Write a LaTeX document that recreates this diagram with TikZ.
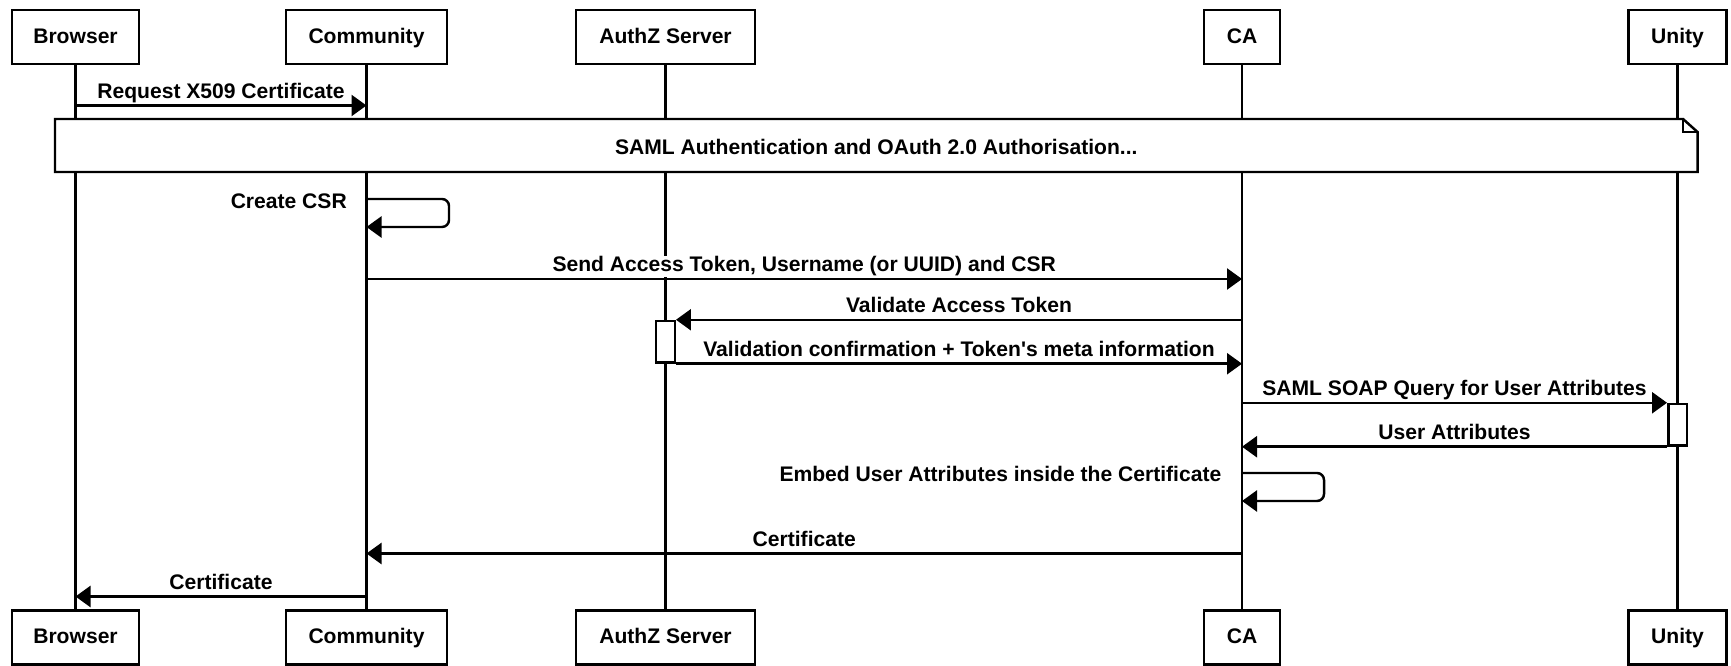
\documentclass[tikz,border=0pt]{standalone}
\usepackage{fontspec}
\setmainfont{Liberation Sans}
\usetikzlibrary{arrows.meta}

\tikzset{
  actor/.style={draw, line width=1.4pt, fill=white, minimum height=1.08cm, inner sep=0pt, text height=0.72em, text depth=0pt},
  life/.style={line width=1.4pt},
  msg/.style={line width=1.4pt, -{Triangle[length=0.3cm, width=0.42cm]}},
  lbl/.style={fill=white, inner sep=0.5pt, anchor=base, yshift=0.14cm},
  act/.style={draw, line width=1.4pt, fill=white, minimum width=0.37cm, minimum height=0.83cm, inner sep=0pt},
}

\begin{document}
\begin{tikzpicture}[font=\fontsize{12}{14}\selectfont\bfseries]
	\useasboundingbox (0,0) rectangle (34.62,-13.32);
	
	% participants, top and bottom
	\node[actor, minimum width=2.54cm] (browser) at (1.51,-0.74) {Browser};
	\node[actor, minimum width=3.22cm] (community) at (7.33,-0.74) {Community};
	\node[actor, minimum width=3.57cm] (authz) at (13.31,-0.74) {AuthZ Server};
	\node[actor, minimum width=1.52cm] (ca) at (24.84,-0.74) {CA};
	\node[actor, minimum width=1.96cm] (unity) at (33.55,-0.74) {Unity};
	\node[actor, minimum width=2.54cm] (browser2) at (1.51,-12.75) {Browser};
	\node[actor, minimum width=3.22cm] (community2) at (7.33,-12.75) {Community};
	\node[actor, minimum width=3.57cm] (authz2) at (13.31,-12.75) {AuthZ Server};
	\node[actor, minimum width=1.52cm] (ca2) at (24.84,-12.75) {CA};
	\node[actor, minimum width=1.96cm] (unity2) at (33.55,-12.75) {Unity};
	\foreach \a in {browser,community,authz,ca,unity}
		\draw[life] (\a) -- (\a2);
	
	% message rows
	\coordinate (r1) at (0,-2.11);
	\coordinate (r2) at (0,-3.98);
	\coordinate (r3) at (0,-4.54);
	\coordinate (r4) at (0,-5.58);
	\coordinate (r5) at (0,-9.46);
	\coordinate (r6) at (0,-10.02);
	\coordinate (r7) at (0,-11.07);
	\coordinate (r8) at (0,-11.93);
	
	\draw[msg] (browser |- r1) -- node[lbl] (m1) {Request X509 Certificate} (community |- r1);
	
	% note over all participants
	\draw[life, fill=white] (1.10,-2.38) -- (33.66,-2.38) -- (33.95,-2.64) -- (33.95,-3.44) -- (1.10,-3.44) -- cycle;
	\draw[life] (33.66,-2.38) |- (33.95,-2.64);
	\node (note) at (17.525,-2.93) {SAML Authentication and OAuth 2.0 Authorisation...};
	
	\draw[msg, rounded corners=0.14cm] (community |- r2) -- ++(1.65,0) |- (community |- r3);
	\node[anchor=base east] (csr) at ([xshift=-0.27cm, yshift=-0.2cm]community |- r2) {Create CSR};
	
	\draw[msg] (community |- r4) -- node[lbl] (m2) {Send Access Token, Username (or UUID) and CSR} (ca |- r4);
	
	\node[act] (authzact) at (authz |- 0,-6.835) {};
	\draw[msg] (ca |- authzact.north) -- node[lbl] (m3) {Validate Access Token} (authzact.north east);
	\draw[msg] (authzact.south east) -- node[lbl] (m4) {Validation confirmation + Token\textquotesingle s meta information} (ca |- authzact.south);
	
	\node[act] (unityact) at (unity |- 0,-8.495) {};
	\draw[msg] (ca |- unityact.north) -- node[lbl] (m5) {SAML SOAP Query for User Attributes} (unityact.north west);
	\draw[msg] (unityact.south west) -- node[lbl] (m6) {User Attributes} (ca |- unityact.south);
	
	\draw[msg, rounded corners=0.14cm] (ca |- r5) -- ++(1.64,0) |- (ca |- r6);
	\node[anchor=base east] (embed) at ([xshift=-0.29cm, yshift=-0.18cm]ca |- r5) {Embed User Attributes inside the Certificate};
	
	\draw[msg] (ca |- r7) -- node[lbl] (m7) {Certificate} (community |- r7);
	\draw[msg] (community |- r8) -- node[lbl] (m8) {Certificate} (browser |- r8);
\end{tikzpicture}
\end{document}
